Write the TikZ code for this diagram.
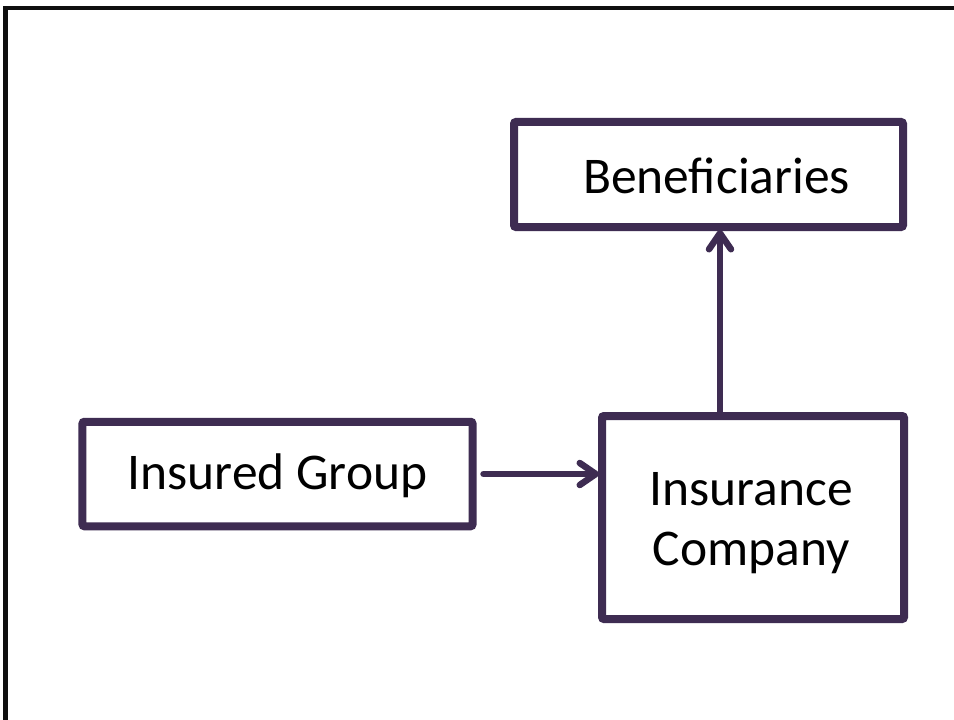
\documentclass[tikz,border=0pt]{standalone}
\usepackage{fontspec}
\setmainfont{Carlito}
\usetikzlibrary{arrows.meta}
\definecolor{boxpurple}{RGB}{62,44,82}
\definecolor{framegray}{RGB}{15,15,15}
\tikzset{
  box/.style={draw=boxpurple, line width=8bp, rounded corners=2bp, inner sep=0pt, fill=white},
  txt/.style={font=\fontsize{51.5bp}{60bp}\selectfont, text=black, inner sep=0pt, align=center},
  conn/.style={draw=boxpurple, line width=6.5bp, line cap=round,
    -{Straight Barb[length=16bp, width=22bp, line width=6.5bp, round]}},
}
\begin{document}
\begin{tikzpicture}[x=1bp, y=-1bp]
\useasboundingbox (0,0) rectangle (954,720);
\fill[white] (0,0) rectangle (954,720);
% frame
\draw[framegray, line width=4bp] (5.5,720) -- (5.5,8.5) -- (954,8.5);
% boxes
\node[box, minimum width=389bp, minimum height=105bp] (ben) at (708.5,174.5) {};
\node[box, minimum width=390bp, minimum height=104.5bp] (ins) at (277.5,474) {};
\node[box, minimum width=302bp, minimum height=203bp] (com) at (753,517.5) {};
% texts
\node[txt] (bent) at ([xshift=8bp,yshift=-1bp]ben.center) {Beneficiaries};
\node[txt] (inst) at ([yshift=-2bp]ins.center) {Insured Group};
\node[txt] (comt) at ([xshift=-2bp,yshift=-6bp]com.center) {Insurance\\Company};
% connectors
\draw[conn] ([xshift=7bp]ins.east) -- ([xshift=1bp]com.west |- ins.east);
\draw[conn] ([xshift=-33bp]com.north) -- ([xshift=-33bp, yshift=1bp]com.north |- ben.south);
\end{tikzpicture}
\end{document}
